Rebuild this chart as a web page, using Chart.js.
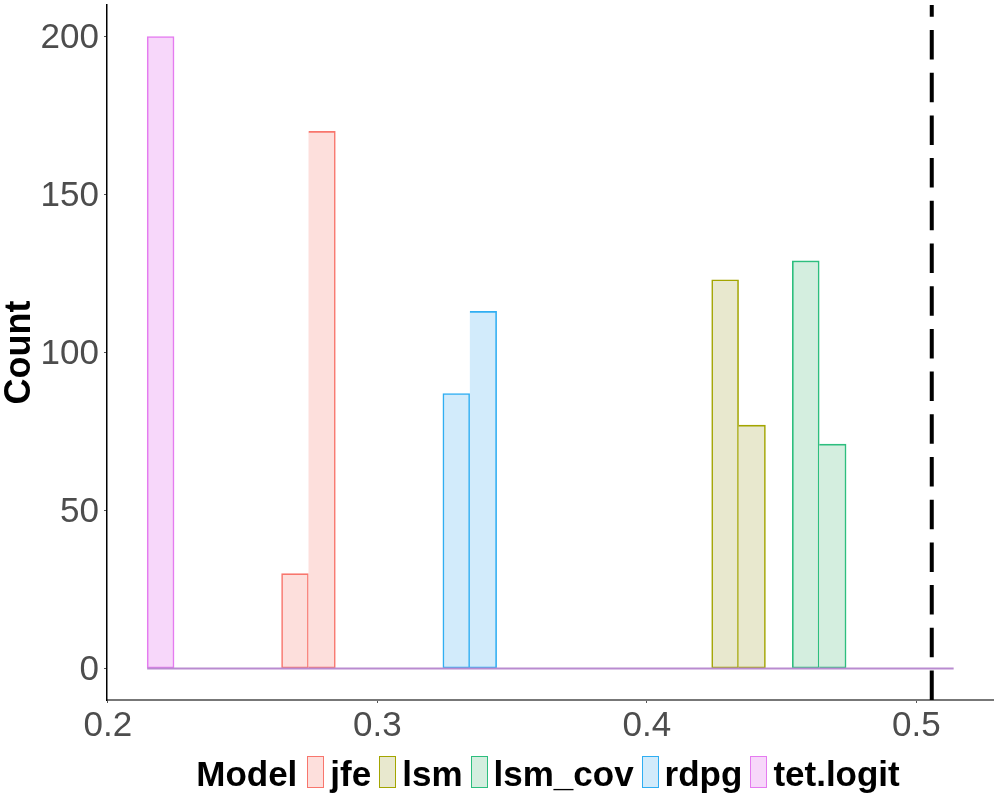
<!DOCTYPE html>
<html><head><meta charset="utf-8">
<script src="https://cdn.jsdelivr.net/npm/chart.js@4.4.1/dist/chart.umd.min.js"></script>
<style>
html,body{margin:0;padding:0;background:#fff;}
#wrap{position:relative;width:1000px;height:800px;}
canvas{position:absolute;left:0;top:0;}
#legend{position:absolute;left:105px;top:756px;width:886px;height:32px;display:flex;justify-content:center;align-items:center;
 font-family:"Liberation Sans",Arial,sans-serif;font-weight:bold;font-size:35px;color:#000;line-height:32px;white-space:nowrap;}
#legend .title{margin-right:10px;position:relative;top:2px;}
#legend .box{width:15px;height:30px;border:1px solid;margin-right:6px;}
#legend .txt{margin-right:8px;position:relative;top:2px;}
#legend .txt:last-child{margin-right:0;}
</style></head>
<body><div id="wrap"><canvas id="c" width="1000" height="800"></canvas><div id="legend"></div></div>
<script>
// ---- data ----
const models = ['jfe', 'lsm', 'lsm_cov', 'rdpg', 'tet.logit'];
const modelColors = ['#F8766D', '#A3A500', '#2DBE7E', '#2FAEF2', '#E57BF0'];
const modelFills = ['#FDDFDC', '#E8E8CE', '#D4EEDF', '#D2EBFB', '#F7D7FA'];

const jfeBins = [0.26945, 0.27942];
const jfeCounts = [30, 170];
const lsmBins = [0.42902, 0.43899];
const lsmCounts = [123, 77];
const lsmCovBins = [0.45894, 0.46891];
const lsmCovCounts = [129, 71];
const rdpgBins = [0.32929, 0.33926];
const rdpgCounts = [87, 113];
const tetLogitBins = [0.21959];
const tetLogitCounts = [200];

const histRange = [0.2146, 0.5138];   // extent of the histogram bins (zero-count baseline)
const refLineX = 0.50568;             // dashed reference line
const xTicks = [0.2, 0.3, 0.4, 0.5];
const yTicks = [0, 50, 100, 150, 200];
const xLimits = [0.1997, 0.5284];
const yLimits = [-10, 210];

// ---- chart ----
const FONT = '"Liberation Sans", Arial, sans-serif';
Chart.defaults.font.family = FONT;

function barDs(label, xs, ys, color, fill) {
  return {
    type: 'bar', label,
    data: xs.map((x, i) => ({ x, y: ys[i] })),
    backgroundColor: fill, borderColor: color, borderWidth: 1.6,
    borderSkipped: ctx => (ctx.dataIndex > 0 ? 'left' : false),
    grouped: false, barPercentage: 1, categoryPercentage: 1, order: 3
  };
}
const seriesBins = [jfeBins, lsmBins, lsmCovBins, rdpgBins, tetLogitBins];
const seriesCounts = [jfeCounts, lsmCounts, lsmCovCounts, rdpgCounts, tetLogitCounts];

const datasets = models.map((m, i) => barDs(m, seriesBins[i], seriesCounts[i], modelColors[i], modelFills[i]));
datasets.push({
  type: 'line', label: 'baseline',
  data: [{ x: histRange[0], y: 0 }, { x: histRange[1], y: 0 }],
  borderColor: '#b98bd0', borderWidth: 2, pointRadius: 0, order: 2
});
datasets.push({
  type: 'line', label: 'ref',
  data: [{ x: refLineX, y: yLimits[0] }, { x: refLineX, y: yLimits[1] }],
  borderColor: '#000', borderWidth: 4, borderDash: [29.5, 13.2], borderCapStyle: 'butt',
  pointRadius: 0, order: 1, clip: false
});

new Chart(document.getElementById('c'), {
  type: 'bar',
  data: { datasets },
  options: {
    responsive: false, animation: false, devicePixelRatio: 1,
    layout: { padding: { top: 5, right: 7, left: 0, bottom: 0 } },
    plugins: { legend: { display: false }, tooltip: { enabled: false } },
    scales: {
      x: {
        type: 'linear', min: xLimits[0], max: xLimits[1], offset: false,
        afterBuildTicks: s => { s.ticks = xTicks.map(v => ({ value: v })); },
        ticks: { color: '#4d4d4d', font: { size: 35 }, padding: 2, maxRotation: 0, callback: v => v.toFixed(1) },
        grid: { display: true, offset: false, drawOnChartArea: false, drawTicks: true, tickLength: 3, color: '#555' },
        border: { display: true, color: '#777', width: 2 },
        afterFit: s => { s.height = 100; s.paddingLeft = 0; s.paddingRight = 0; }
      },
      y: {
        type: 'linear', min: yLimits[0], max: yLimits[1],
        afterBuildTicks: s => { s.ticks = yTicks.map(v => ({ value: v })); },
        ticks: { color: '#4d4d4d', font: { size: 35 }, padding: 5, labelOffset: 2, callback: v => String(v) },
        grid: { display: true, drawOnChartArea: false, drawTicks: true, tickLength: 3, color: '#555' },
        border: { display: true, color: '#000', width: 1.5 },
        title: { display: true, text: 'Count', color: '#000', font: { size: 36, weight: 'bold', lineHeight: 1.1 }, padding: 0 },
        afterFit: s => { s.width = 107; s.paddingTop = 0; s.paddingBottom = 0; }
      }
    }
  }
});

// ---- legend (HTML) ----
const lg = document.getElementById('legend');
const t = document.createElement('span'); t.className = 'title'; t.textContent = 'Model'; lg.appendChild(t);
models.forEach((m, i) => {
  const b = document.createElement('span'); b.className = 'box';
  b.style.borderColor = modelColors[i]; b.style.background = modelFills[i];
  lg.appendChild(b);
  const s = document.createElement('span'); s.className = 'txt'; s.textContent = m; lg.appendChild(s);
});
</script>
</body></html>
